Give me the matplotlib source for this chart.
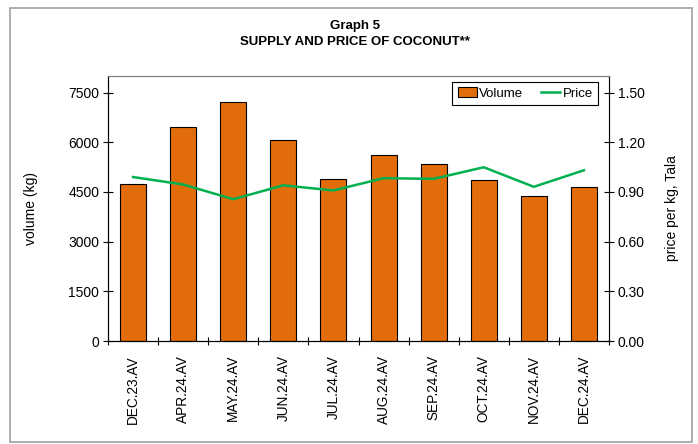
import matplotlib.pyplot as plt
from matplotlib.patches import Rectangle
from matplotlib.lines import Line2D
from matplotlib.patches import Patch
import numpy as np

plt.rcParams['font.family'] = ['Liberation Sans', 'DejaVu Sans']

months = ['DEC.23.AV', 'APR.24.AV', 'MAY.24.AV', 'JUN.24.AV', 'JUL.24.AV',
          'AUG.24.AV', 'SEP.24.AV', 'OCT.24.AV', 'NOV.24.AV', 'DEC.24.AV']
volume = [4735, 6475, 7230, 6070, 4905, 5610, 5330, 4875, 4385, 4635]
price = [0.99, 0.945, 0.856, 0.94, 0.909, 0.983, 0.979, 1.049, 0.931, 1.031]

bar_color = '#e36c0a'
line_color = '#00b050'

fig = plt.figure(figsize=(6.98, 4.44), dpi=100)
fig.patches.append(Rectangle((10 / 698, 1 - 442 / 444), 682 / 698, 434 / 444,
                             transform=fig.transFigure, fill=False,
                             edgecolor='#a0a0a0', linewidth=1.2))

ax = fig.add_axes([108 / 698, 1 - 341 / 444, 501 / 698, 265 / 444])
x = np.arange(len(months))
ax.bar(x, volume, width=0.52, color=bar_color, edgecolor='black', linewidth=0.8,
       zorder=2)
ax.set_xlim(-0.5, len(months) - 0.5)
ax.set_ylim(0, 8000)
ax.set_yticks(np.arange(0, 7501, 1500))
ax.set_xticks(np.arange(-0.5, len(months), 1))
ax.set_xticklabels([])
ax.set_xticks(x, minor=True)
ax.set_xticklabels(months, minor=True, rotation=90, fontsize=9.8)
ax.tick_params(axis='x', which='major', direction='inout', length=6, width=0.8)
ax.tick_params(axis='x', which='minor', length=0, pad=10)
ax.tick_params(axis='y', direction='inout', length=6.5, width=0.8, labelsize=10, pad=3)
ax.spines['top'].set_color('#808080')
ax.spines['right'].set_color('#808080')
ax.set_ylabel('volume (kg)', fontsize=10)
ax.yaxis.set_label_coords(-0.14, 0.5)

ax2 = ax.twinx()
ax2.plot(x, price, color=line_color, linewidth=1.8, zorder=3)
ax2.set_ylim(0, 1.6)
ax2.set_yticks(np.arange(0, 1.51, 0.3))
ax2.set_yticklabels(['%.2f' % v for v in np.arange(0, 1.51, 0.3)])
ax2.tick_params(axis='y', direction='inout', length=6.5, width=0.8, labelsize=10, pad=3)
ax2.spines['top'].set_color('#808080')
ax2.set_ylabel('price per kg, Tala', fontsize=10)
ax2.yaxis.set_label_coords(1.112, 0.5)

handles = [Patch(facecolor=bar_color, edgecolor='black', linewidth=0.8),
           Line2D([0], [0], color=line_color, linewidth=1.8)]
leg = ax2.legend(handles, ['Volume', 'Price'], ncol=2, loc='upper right',
                 bbox_to_anchor=(0.978, 0.977), borderaxespad=0, fontsize=9.5,
                 fancybox=False, framealpha=1, edgecolor='black',
                 handlelength=1.5, handleheight=0.7, handletextpad=0.15,
                 columnspacing=1.3, borderpad=0.4)
leg.get_frame().set_linewidth(0.8)

fig.text(355 / 698, 1 - 26 / 444, 'Graph 5', ha='center', va='center',
         fontsize=9.5, fontweight='bold')
fig.text(355 / 698, 1 - 42 / 444, 'SUPPLY AND PRICE OF COCONUT**', ha='center',
         va='center', fontsize=9.5, fontweight='bold')

fig.savefig('out.png', dpi=100)
